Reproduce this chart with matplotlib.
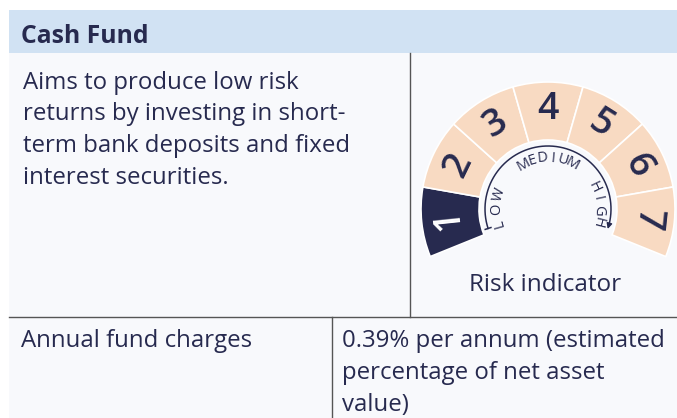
import numpy as np
import matplotlib.pyplot as plt
from matplotlib.patches import Rectangle, Wedge

# --- data -------------------------------------------------------------
fund_name = "Cash Fund"
fund_aim = ["Aims to produce low risk",
            "returns by investing in short-",
            "term bank deposits and fixed",
            "interest securities."]
charge_label = "Annual fund charges"
charge_text = ["0.39% per annum (estimated",
               "percentage of net asset",
               "value)"]
risk_levels = [1, 2, 3, 4, 5, 6, 7]
fund_risk = 1
scale_words = ["LOW", "MEDIUM", "HIGH"]
scale_centres = [180, 90, 5.5]      # degrees, where each word sits on the arc
scale_steps = [16, 11.5, 13.5]     # degrees between letters
risk_caption = "Risk indicator"

W, H = 677, 418
NAVY = "#272a4f"
PEACH = "#f8dac2"
HEADER = "#d1e2f3"
BODY = "#f8f9fc"
LINE = "#555555"

plt.rcParams['font.family'] = ['Open Sans', 'DejaVu Sans']

fig = plt.figure(figsize=(W / 100, H / 100), dpi=100)
ax = fig.add_axes([0, 0, 1, 1])
ax.set_xlim(0, W)
ax.set_ylim(H, 0)
ax.axis('off')

# table background and rules
ax.add_patch(Rectangle((9, 53), W - 9, H - 53, color=BODY, lw=0))
ax.add_patch(Rectangle((9, 10), W - 9, 43, color=HEADER, lw=0))
ax.plot([9, W], [317, 317], color=LINE, lw=1)
ax.plot([410, 410], [53, 317], color=LINE, lw=1)
ax.plot([332, 332], [317, H], color=LINE, lw=1)

ax.text(21, 43, fund_name, fontsize=17.8, fontweight='bold', color=NAVY, va='baseline')
for i, line in enumerate(fund_aim):
    ax.text(23, 89 + i * 31.5, line, fontsize=17.3, color=NAVY, va='baseline')
ax.text(21, 347, charge_label, fontsize=17.3, color=NAVY, va='baseline')
for i, line in enumerate(charge_text):
    ax.text(342, 347 + i * 32.2, line, fontsize=17.3, color=NAVY, va='baseline')

# --- risk gauge -------------------------------------------------------
cx, cy = 548, 209
r_out, r_in = 127, 69
span = 32
start = 180 + 22  # visual angle of the left end of segment 1


def polar(r, a):
    t = np.radians(a)
    return cx + r * np.cos(t), cy - r * np.sin(t)


for i, level in enumerate(risk_levels):
    a1 = start - (i + 1) * span
    a2 = start - i * span
    face = NAVY if level == fund_risk else PEACH
    ax.add_patch(Wedge((cx, cy), r_out, -a2, -a1, width=r_out - r_in,
                       facecolor=face, edgecolor='white', lw=1.2))
    mid = (a1 + a2) / 2
    x, y = polar(100, mid)
    ax.text(x, y, str(level), fontsize=27, fontweight='semibold',
            color='white' if level == fund_risk else NAVY,
            rotation=mid - 90, ha='center', va='center', rotation_mode='anchor')

# inner arc LOW -> HIGH
arc_r = 63
ang = np.linspace(198, -15, 200)
xs, ys = polar(arc_r, ang)
ax.plot(xs, ys, color=NAVY, lw=1.1)
t0 = [polar(arc_r - 3, 198), polar(arc_r + 3, 198)]
ax.plot([t0[0][0], t0[1][0]], [t0[0][1], t0[1][1]], color=NAVY, lw=1.1)
ax.annotate('', xy=polar(arc_r, -18.5), xytext=polar(arc_r, -14),
            arrowprops=dict(arrowstyle='-|>', color=NAVY, lw=1,
                            mutation_scale=8, shrinkA=0, shrinkB=0))

for word, centre, step in zip(scale_words, scale_centres, scale_steps):
    n = len(word)
    for k, ch in enumerate(word):
        a = centre + (n - 1) / 2 * step - k * step
        x, y = polar(51, a)
        ax.text(x, y, ch, fontsize=10.5, fontweight='medium', color=NAVY,
                rotation=a - 90, ha='center', va='center', rotation_mode='anchor')

ax.text(545, 291, risk_caption, fontsize=17.5, color=NAVY, ha='center', va='baseline')

fig.savefig('out.png', dpi=100)
